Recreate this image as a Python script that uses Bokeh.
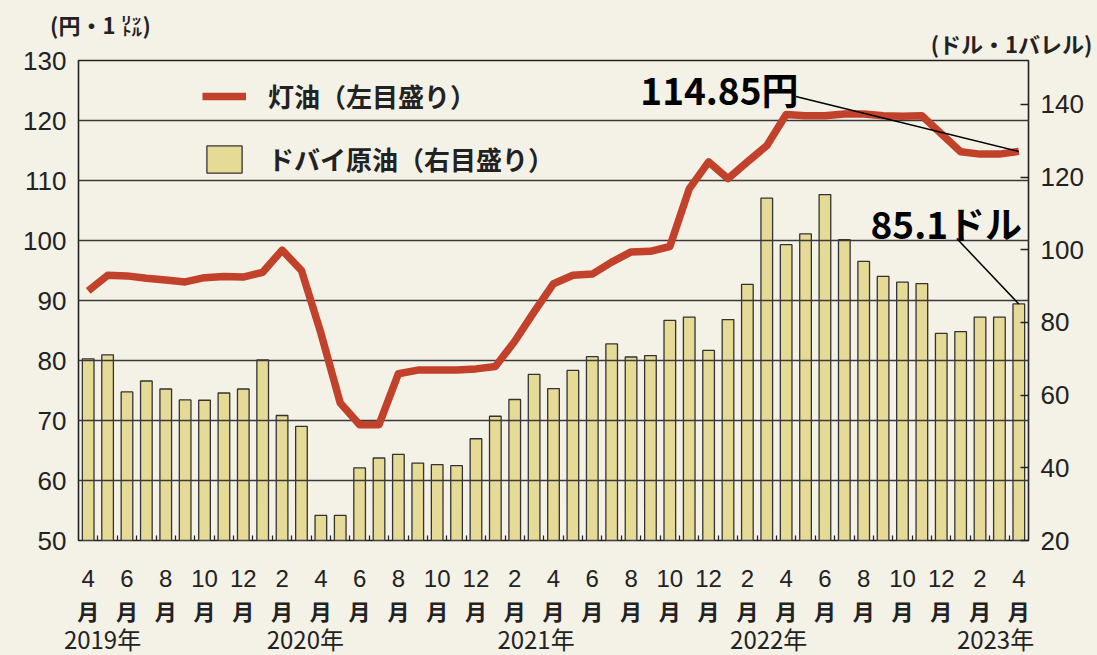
from bokeh.plotting import figure
from bokeh.models import Range1d, LinearAxis, FixedTicker, Legend, LegendItem, Label
from bokeh.embed import file_html
from bokeh.resources import INLINE

# ---------------- data ----------------
# monthly, April 2019 .. April 2023
start_year = 2019
start_month = 4

# kerosene price (yen per litre, left scale)
kerosene = [91.6, 94.2, 94.1, 93.7, 93.4, 93.1, 93.8, 94.0, 93.9,
            94.7, 98.4, 95.0, 84.6, 72.9, 69.3, 69.3, 77.8, 78.4, 78.4, 78.4, 78.6,
            79.0, 83.2, 88.1, 92.8, 94.2, 94.4, 96.4, 98.1, 98.2, 99.0, 108.6, 113.1,
            110.3, 113.1, 115.8, 121.0, 120.8, 120.8, 121.1, 121.1, 120.8, 120.7, 120.8, 117.8,
            114.8, 114.4, 114.4, 114.85]

# Dubai crude (dollars per barrel, right scale)
dubai = [70.0, 71.1, 60.9, 63.9, 61.7, 58.7, 58.6, 60.6, 61.7,
         69.7, 54.4, 51.4, 26.9, 26.9, 40.0, 42.7, 43.7, 41.3, 40.9, 40.6, 48.0,
         54.2, 58.8, 65.7, 61.8, 66.8, 70.6, 74.1, 70.5, 70.9, 80.6, 81.5, 72.3,
         80.8, 90.5, 114.2, 101.4, 104.4, 115.2, 102.8, 96.8, 92.7, 91.1, 90.7, 77.0,
         77.5, 81.5, 81.5, 85.1]

left_ticks = [50, 60, 70, 80, 90, 100, 110, 120, 130]
right_ticks = [20, 40, 60, 80, 100, 120, 140]
year_labels = ["2019年", "2020年", "2021年", "2022年", "2023年"]

series_names = ["灯油（左目盛り）", "ドバイ原油（右目盛り）"]
left_title = "(円・1 ㍑)"
right_title = "(ドル・1バレル)"
kerosene_note = "114.85円"
dubai_note = "85.1ドル"

# ---------------- layout constants ----------------
RIGHT_RANGE = (20, 152.1)
YEAR_POS = [0.74, 11.2, 23.1, 35.1, 46.8]
LEFT_TITLE_POS = 0.63
RIGHT_TITLE_POS = 47.62
NOTE1_POS = (28.48, 125.2)      # text position (x index, left scale)
NOTE1_LINE_START = (36.5, 124.0)
NOTE2_POS = (40.35, 103.0)
NOTE2_LINE_START = (44.8, 103.1)  # right scale

PAPER = "#F4F1E7"
BAR_FILL = "#E6DA97"
LINE_COL = "#C2412B"
INK = "#222222"

n = len(kerosene)
idx = list(range(n))
month_of = [((start_month - 1 + i) % 12) + 1 for i in idx]
label_idx = idx[::2]

p = figure(frame_width=950, frame_height=480,
           x_range=Range1d(-0.5, n - 0.5), y_range=Range1d(left_ticks[0], left_ticks[-1]),
           output_backend="svg", toolbar_location=None, title_location=None,
           min_border_left=78, min_border_right=69, min_border_top=60, min_border_bottom=115,
           background_fill_color=PAPER, border_fill_color=PAPER,
           outline_line_color=INK, outline_line_width=1.6)
p.extra_y_ranges = {"right": Range1d(*RIGHT_RANGE)}
p.xaxis.visible = False
p.xgrid.visible = False

# left axis
la = p.yaxis[0]
la.ticker = FixedTicker(ticks=left_ticks)
la.major_tick_in = 0
la.major_tick_out = 0
la.minor_tick_in = 0
la.minor_tick_out = 0
la.axis_line_color = None
la.major_label_standoff = 12
la.major_label_text_font = "Liberation Sans"
la.major_label_text_font_size = "26px"
la.major_label_text_color = INK

p.ygrid.grid_line_color = "#3a3a3a"
p.ygrid.grid_line_width = 1.3
p.ygrid.level = "annotation"

# right axis
ra = LinearAxis(y_range_name="right", ticker=FixedTicker(ticks=right_ticks),
                major_tick_in=8, major_tick_out=0, minor_tick_in=0, minor_tick_out=0,
                axis_line_color=None, major_tick_line_color=INK, major_tick_line_width=1.3,
                major_label_standoff=12, major_label_text_font="Liberation Sans",
                major_label_text_font_size="26px", major_label_text_color=INK)
p.add_layout(ra, "right")


def label_axis(ticks, labels, standoff, font, size, style="normal", minor=None):
    return LinearAxis(ticker=FixedTicker(ticks=ticks, minor_ticks=minor or []),
                      major_label_overrides={t: l for t, l in zip(ticks, labels)},
                      major_tick_in=0, major_tick_out=0,
                      minor_tick_in=5 if minor else 0, minor_tick_out=0,
                      minor_tick_line_color=INK, minor_tick_line_width=1.2,
                      axis_line_color=None, major_label_standoff=standoff,
                      major_label_text_font=font, major_label_text_font_style=style,
                      major_label_text_font_size=size, major_label_text_color=INK)


# bottom axes: month numbers, 月, year
ax1 = label_axis(label_idx, [str(month_of[i]) for i in label_idx], 29,
                 "Liberation Sans Narrow, Liberation Sans", "24px",
                 minor=[i + 0.5 for i in idx[:-1]])
ax2 = label_axis(label_idx, ["月"] * len(label_idx), 4, "Noto Sans CJK JP", "22px", "bold")
ax3 = label_axis(YEAR_POS, year_labels, -8, "Noto Sans CJK JP", "24px")
p.add_layout(ax1, "below")
p.add_layout(ax2, "below")
p.add_layout(ax3, "below")

# unit captions above the frame
axr = label_axis([RIGHT_TITLE_POS], [right_title], 2, "Noto Sans CJK JP", "22px", "bold")
axl = label_axis([LEFT_TITLE_POS], [left_title], -16, "Noto Sans CJK JP", "22px", "bold")
p.add_layout(axr, "above")
p.add_layout(axl, "above")

# bars (Dubai crude, right scale)
bars = p.vbar(x=idx, top=dubai, bottom=RIGHT_RANGE[0], width=0.6, y_range_name="right",
              fill_color=BAR_FILL, line_color="#333333", line_width=1.3)

# kerosene line (left scale)
kline = p.line(idx, kerosene, line_color=LINE_COL, line_width=7.5, line_join="round",
               level="overlay")

# leader lines and notes
p.segment(x0=[NOTE1_LINE_START[0]], y0=[NOTE1_LINE_START[1]], x1=[idx[-1]], y1=[kerosene[-1]],
          line_color="black", line_width=1.5, level="overlay")
p.segment(x0=[NOTE2_LINE_START[0]], y0=[NOTE2_LINE_START[1]], x1=[idx[-1]], y1=[dubai[-1]],
          y_range_name="right", line_color="black", line_width=1.5, level="overlay")

p.add_layout(Label(x=NOTE1_POS[0], y=NOTE1_POS[1], text=kerosene_note,
                   text_font="Noto Sans CJK JP", text_font_style="bold",
                   text_font_size="37px", text_baseline="middle", text_align="left",
                   text_color="black"))
p.add_layout(Label(x=NOTE2_POS[0], y=NOTE2_POS[1], text=dubai_note,
                   text_font="Noto Sans CJK JP", text_font_style="bold",
                   text_font_size="37px", text_baseline="middle", text_align="left",
                   text_color="black"))

legend = Legend(items=[LegendItem(label=series_names[0], renderers=[kline]),
                       LegendItem(label=series_names[1], renderers=[bars])],
                location=(124, 363), glyph_width=44, glyph_height=34, label_height=34,
                spacing=26, padding=0, margin=0, label_standoff=22,
                background_fill_alpha=0, border_line_alpha=0,
                label_text_font="Noto Sans CJK JP", label_text_font_style="bold",
                label_text_font_size="26px", label_text_color=INK)
p.add_layout(legend)

html = file_html(p, INLINE)
html = html.replace("</head>",
                    "<style>html, body { background: %s; }</style></head>" % PAPER, 1)
open("out.html", "w").write(html)
